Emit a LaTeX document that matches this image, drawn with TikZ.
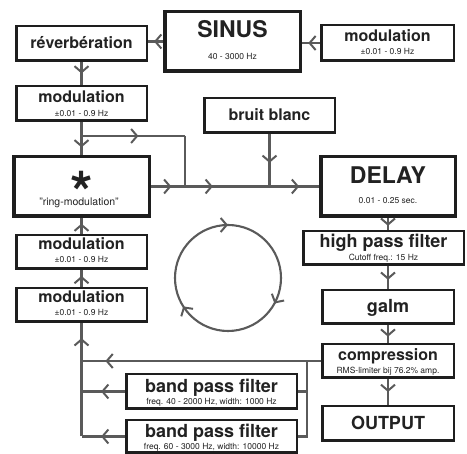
\documentclass[tikz,border=0pt]{standalone}
\usepackage{fontspec}
\setmainfont{TeX Gyre Heros}
\usetikzlibrary{arrows.meta,decorations.markings}
\definecolor{boxc}{HTML}{1E1E1E}
\definecolor{linec}{HTML}{5A5A5A}
\definecolor{txtc}{HTML}{222222}
\tikzset{
  bx/.style 2 args={draw=boxc, line width=2.5pt, fill=white, inner sep=0pt,
    minimum width=#1, minimum height=#2},
  bxt/.style 2 args={draw=boxc, line width=3.5pt, fill=white, inner sep=0pt,
    minimum width=#1, minimum height=#2},
  con/.style={draw=linec, line width=2.1pt},
  chev/.tip={Straight Barb[length=6pt,width=14pt,line width=2pt]},
  midarr/.style={postaction={decorate}, decoration={markings,
    mark=at position #1 with {\arrow{chev}}}},
  midarr/.default=0.5,
  tbig/.style={font=\fontsize{23}{23}\selectfont\bfseries, text=txtc, inner sep=0pt, anchor=base},
  tmid/.style={font=\fontsize{18}{18}\selectfont\bfseries, text=txtc, inner sep=0pt, anchor=base},
  tmain/.style={font=\fontsize{16}{16}\selectfont\bfseries, text=txtc, inner sep=0pt, anchor=base},
  tsub/.style={font=\fontsize{8.5}{9}\selectfont, text=txtc, inner sep=0pt, anchor=base},
}
\begin{document}
\begin{tikzpicture}[x=1pt,y=-1pt]
\useasboundingbox (0,0) rectangle (467,454);
% ---------------- boxes
\node[bxt={135.5pt}{59.5pt}] (sinus) at (232.5,41.5) {};
\node[bx={130.5pt}{34.5pt}] (rev) at (81.5,43.5) {};
\node[bx={132.5pt}{35.5pt}] (modr) at (387.5,43) {};
\node[bx={130.5pt}{34.5pt}] (mod2) at (81.5,103.5) {};
\node[bx={130.5pt}{34.5pt}] (bruit) at (269.5,115.5) {};
\node[bxt={135.5pt}{59.5pt}] (ring) at (81.5,186.5) {};
\node[bxt={134.5pt}{59.5pt}] (delay) at (388,186.5) {};
\node[bx={160.5pt}{33.5pt}] (hpf) at (383.5,248) {};
\node[bx={130.5pt}{33.5pt}] (mod3) at (81.5,252) {};
\node[bx={130.5pt}{33.5pt}] (mod4) at (81.5,305) {};
\node[bx={131.5pt}{33.5pt}] (galm) at (388,307) {};
\node[bx={131.5pt}{33.5pt}] (comp) at (388,361) {};
\node[bx={131.5pt}{34.5pt}] (outp) at (388,423.5) {};
\node[bx={170.5pt}{34.5pt}] (bp1) at (211.5,391.5) {};
\node[bx={170.5pt}{32.5pt}] (bp2) at (211.5,436.5) {};
% ---------------- texts
\node[tbig] (tsinus) at (232.5,38) {SINUS};
\node[tsub] (ssinus) at (232.5,60) {40 - 3000 Hz};
\node[tmain] (trev) at (81.5,49) {réverbération};
\node[tmain] (tmodr) at (387.5,42) {modulation};
\node[tsub] (smodr) at (387.5,55) {±0.01 - 0.9 Hz};
\node[tmain] (tmod2) at (81.5,103) {modulation};
\node[tsub] (smod2) at (81.5,117) {±0.01 - 0.9 Hz};
\node[tmain] (tbruit) at (269.5,121) {bruit blanc};
\node[font=\fontsize{58}{58}\selectfont\bfseries, text=txtc, inner sep=0pt, anchor=center] (tstar) at (81.5,180.5) {\raisebox{-0.42em}[0.3em][0pt]{*}};
\node[font=\fontsize{10.5}{11}\selectfont, text=txtc, inner sep=0pt, anchor=base] (tring) at (79,206) {"ring-modulation"};
\node[tbig] (tdelay) at (388,184) {DELAY};
\node[tsub] (sdelay) at (388,204) {0.01 - 0.25 sec.};
\node[tmid] (thpf) at (383.5,248) {high pass filter};
\node[tsub] (shpf) at (383.5,261) {Cutoff freq.: 15 Hz};
\node[tmain] (tmod3) at (81.5,250) {modulation};
\node[tsub] (smod3) at (81.5,263) {±0.01 - 0.9 Hz};
\node[tmain] (tmod4) at (81.5,303) {modulation};
\node[tsub] (smod4) at (81.5,316) {±0.01 - 0.9 Hz};
\node[tmid] (tgalm) at (388,313) {galm};
\node[tmain] (tcomp) at (388,361) {compression};
\node[tsub] (scomp) at (388,374) {RMS-limiter bij 76.2\% amp.};
\node[tmid] (toutp) at (388,430) {OUTPUT};
\node[tmid] (tbp1) at (211.5,393) {band pass filter};
\node[tsub] (sbp1) at (211.5,405) {freq. 40 - 2000 Hz, width: 1000 Hz};
\node[tmid] (tbp2) at (211.5,438) {band pass filter};
\node[tsub] (sbp2) at (211.5,450) {freq. 60 - 3000 Hz, width: 10000 Hz};
% ---------------- junctions
\coordinate (J0) at (81.5,136);
\coordinate (J0r) at (185,136);
\coordinate (J1) at (185,186.5);
\coordinate (J2) at (269.5,186.5);
\coordinate (L1) at (81.5,361);
\coordinate (L2) at (81.5,391.5);
\coordinate (L3) at (81.5,436.5);
\coordinate (R1) at (307,361);
\coordinate (R2) at (307,391.5);
\coordinate (R3) at (307,436.5);
% ---------------- connectors
\draw[con,midarr=0.6] (sinus.west) -- (sinus.west -| rev.east);
\draw[con,midarr=0.65] (modr.west) -- (modr.west -| sinus.east);
\draw[con,midarr=0.5] (rev.south) -- (mod2.north);
\draw[con] (mod2.south) -- (J0);
\draw[con,midarr=0.6] (J0) -- (ring.north);
\draw[con,midarr=0.55] (J0) -- (J0r);
\draw[con] (J0r) -- (J1);
\draw[con,midarr=0.6] (ring.east) -- (J1);
\draw[con,midarr=0.33] (J1) -- (J2);
\draw[con,midarr=0.6] (J2) -- (delay.west);
\draw[con,midarr=0.55] (bruit.south) -- (J2);
\draw[con,midarr=0.65] (delay.south) -- (delay.south |- hpf.north);
\draw[con,midarr=0.6] (galm.north |- hpf.south) -- (galm.north);
\draw[con,midarr=0.65] (galm.south) -- (comp.north);
\draw[con,midarr=0.5] (comp.south) -- (outp.north);
\draw[con,midarr=0.65] (mod3.north) -- (ring.south);
\draw[con,midarr=0.65] (mod4.north) -- (mod3.south);
\draw[con] (L3) -- (L1);
\draw[con,midarr=0.6] (L1) -- (mod4.south);
\draw[con,midarr=0.9] (comp.west) -- (L1);
\draw[con,midarr=0.55] (bp1.west) -- (L2);
\draw[con,midarr=0.55] (bp2.west) -- (L3);
\draw[con] (R1) -- (R3) -- (bp2.east);
\draw[con] (R2) -- (bp1.east);
% ---------------- cycle symbol
\draw[con, postaction={decorate}, decoration={markings,
   mark=at position 0.08 with {\arrow{chev}},
   mark=at position 0.41 with {\arrow{chev}},
   mark=at position 0.75 with {\arrow{chev}}}] (228,278) circle (53);
\end{tikzpicture}
\end{document}
